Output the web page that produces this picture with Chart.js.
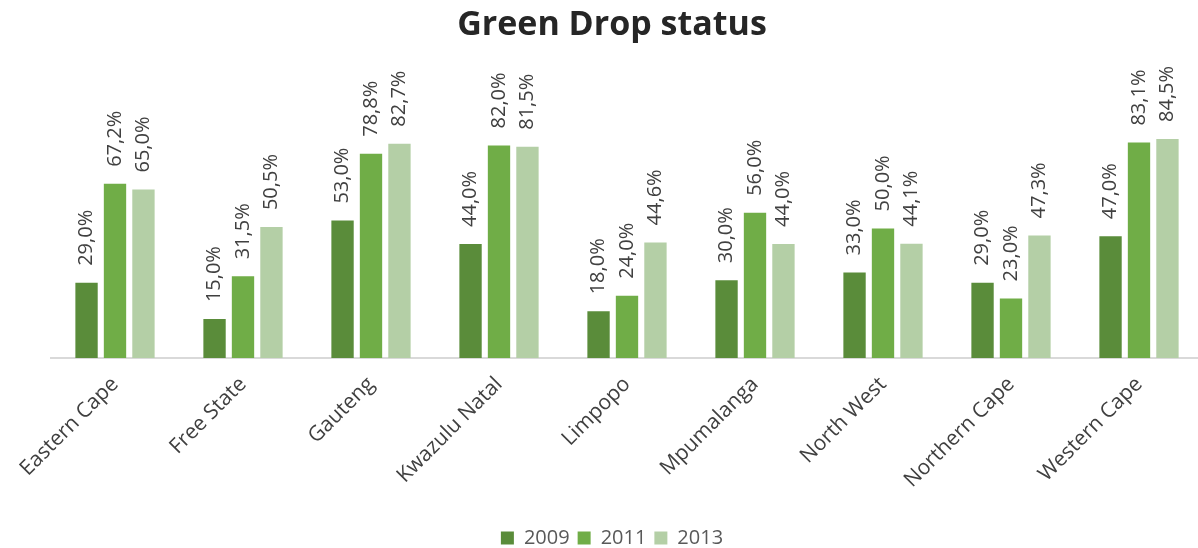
<!DOCTYPE html>
<html>
<head>
<meta charset="utf-8">
<title>Green Drop status</title>
<script src="https://cdn.jsdelivr.net/npm/chart.js@4/dist/chart.umd.min.js"></script>
<style>
    html, body { margin: 0; padding: 0; background: #fff; overflow: hidden; }
    #wrap { width: 1224px; height: 548px; }
</style>
</head>
<body>
<div id="wrap"><canvas id="greenDropChart"></canvas></div>
<script>
// Data
const provinces = ['Eastern Cape', 'Free State', 'Gauteng', 'Kwazulu Natal', 'Limpopo',
    'Mpumalanga', 'North West', 'Northern Cape', 'Western Cape'];
const seriesYears = ['2009', '2011', '2013'];
const values2009 = [29.0, 15.0, 53.0, 44.0, 18.0, 30.0, 33.0, 29.0, 47.0];
const values2011 = [67.2, 31.5, 78.8, 82.0, 24.0, 56.0, 50.0, 23.0, 83.1];
const values2013 = [65.0, 50.5, 82.7, 81.5, 44.6, 44.0, 44.1, 47.3, 84.5];
const seriesColors = ['#5a8c3a', '#70ad47', '#b4cfa6'];

const FONT = "'Open Sans', Lato, sans-serif";

// Rotated value labels above each bar
const valueLabels = {
    id: 'valueLabels',
    afterDatasetsDraw(chart) {
        const ctx = chart.ctx;
        ctx.save();
        ctx.font = '20px ' + FONT;
        ctx.fillStyle = '#404040';
        ctx.textAlign = 'left';
        ctx.textBaseline = 'middle';
        chart.data.datasets.forEach((ds, i) => {
            const meta = chart.getDatasetMeta(i);
            meta.data.forEach((bar, j) => {
                const text = ds.data[j].toFixed(1).replace('.', ',') + '%';
                ctx.save();
                ctx.translate(bar.x, bar.y - 17);
                ctx.rotate(-Math.PI / 2);
                ctx.fillText(text, 0, 0);
                ctx.restore();
            });
        });
        ctx.restore();
    }
};

const allSeries = [values2009, values2011, values2013];

// empty side axes just to hold the plot margins, so title and legend stay centred on the canvas
const spacerAxis = (pos, w) => ({
    position: pos,
    display: true,
    min: 0,
    max: 100,
    ticks: { display: false },
    grid: { display: false },
    border: { display: false },
    afterFit(scale) { scale.width = w; }
});

new Chart(document.getElementById('greenDropChart'), {
    type: 'bar',
    data: {
        labels: provinces,
        datasets: seriesYears.map((year, i) => ({
            label: year,
            data: allSeries[i],
            backgroundColor: seriesColors[i],
            categoryPercentage: 0.667,
            barPercentage: 0.785
        }))
    },
    options: {
        responsive: true,
        maintainAspectRatio: false,
        animation: false,
        layout: {
            padding: { left: 0, right: 0, top: 0, bottom: -10 }
        },
        plugins: {
            title: {
                display: true,
                text: 'Green Drop status',
                color: '#262626',
                font: { family: FONT, size: 34, weight: 'bold' },
                padding: { top: 5, bottom: 53 }
            },
            legend: {
                position: 'bottom',
                labels: {
                    color: '#595959',
                    font: { family: FONT, size: 20 },
                    boxWidth: 13,
                    boxHeight: 13,
                    padding: 8
                }
            },
            tooltip: { enabled: false }
        },
        scales: {
            x: {
                grid: { display: false },
                border: { display: true, color: '#d9d9d9', width: 2 },
                ticks: {
                    color: '#404040',
                    font: { family: FONT, size: 21 },
                    minRotation: 45,
                    maxRotation: 45,
                    padding: 6
                },
                afterFit(scale) { scale.height = 162; }
            },
            y: spacerAxis('left', 51),
            yRight: spacerAxis('right', 21)
        }
    },
    plugins: [valueLabels]
});
</script>
</body>
</html>
